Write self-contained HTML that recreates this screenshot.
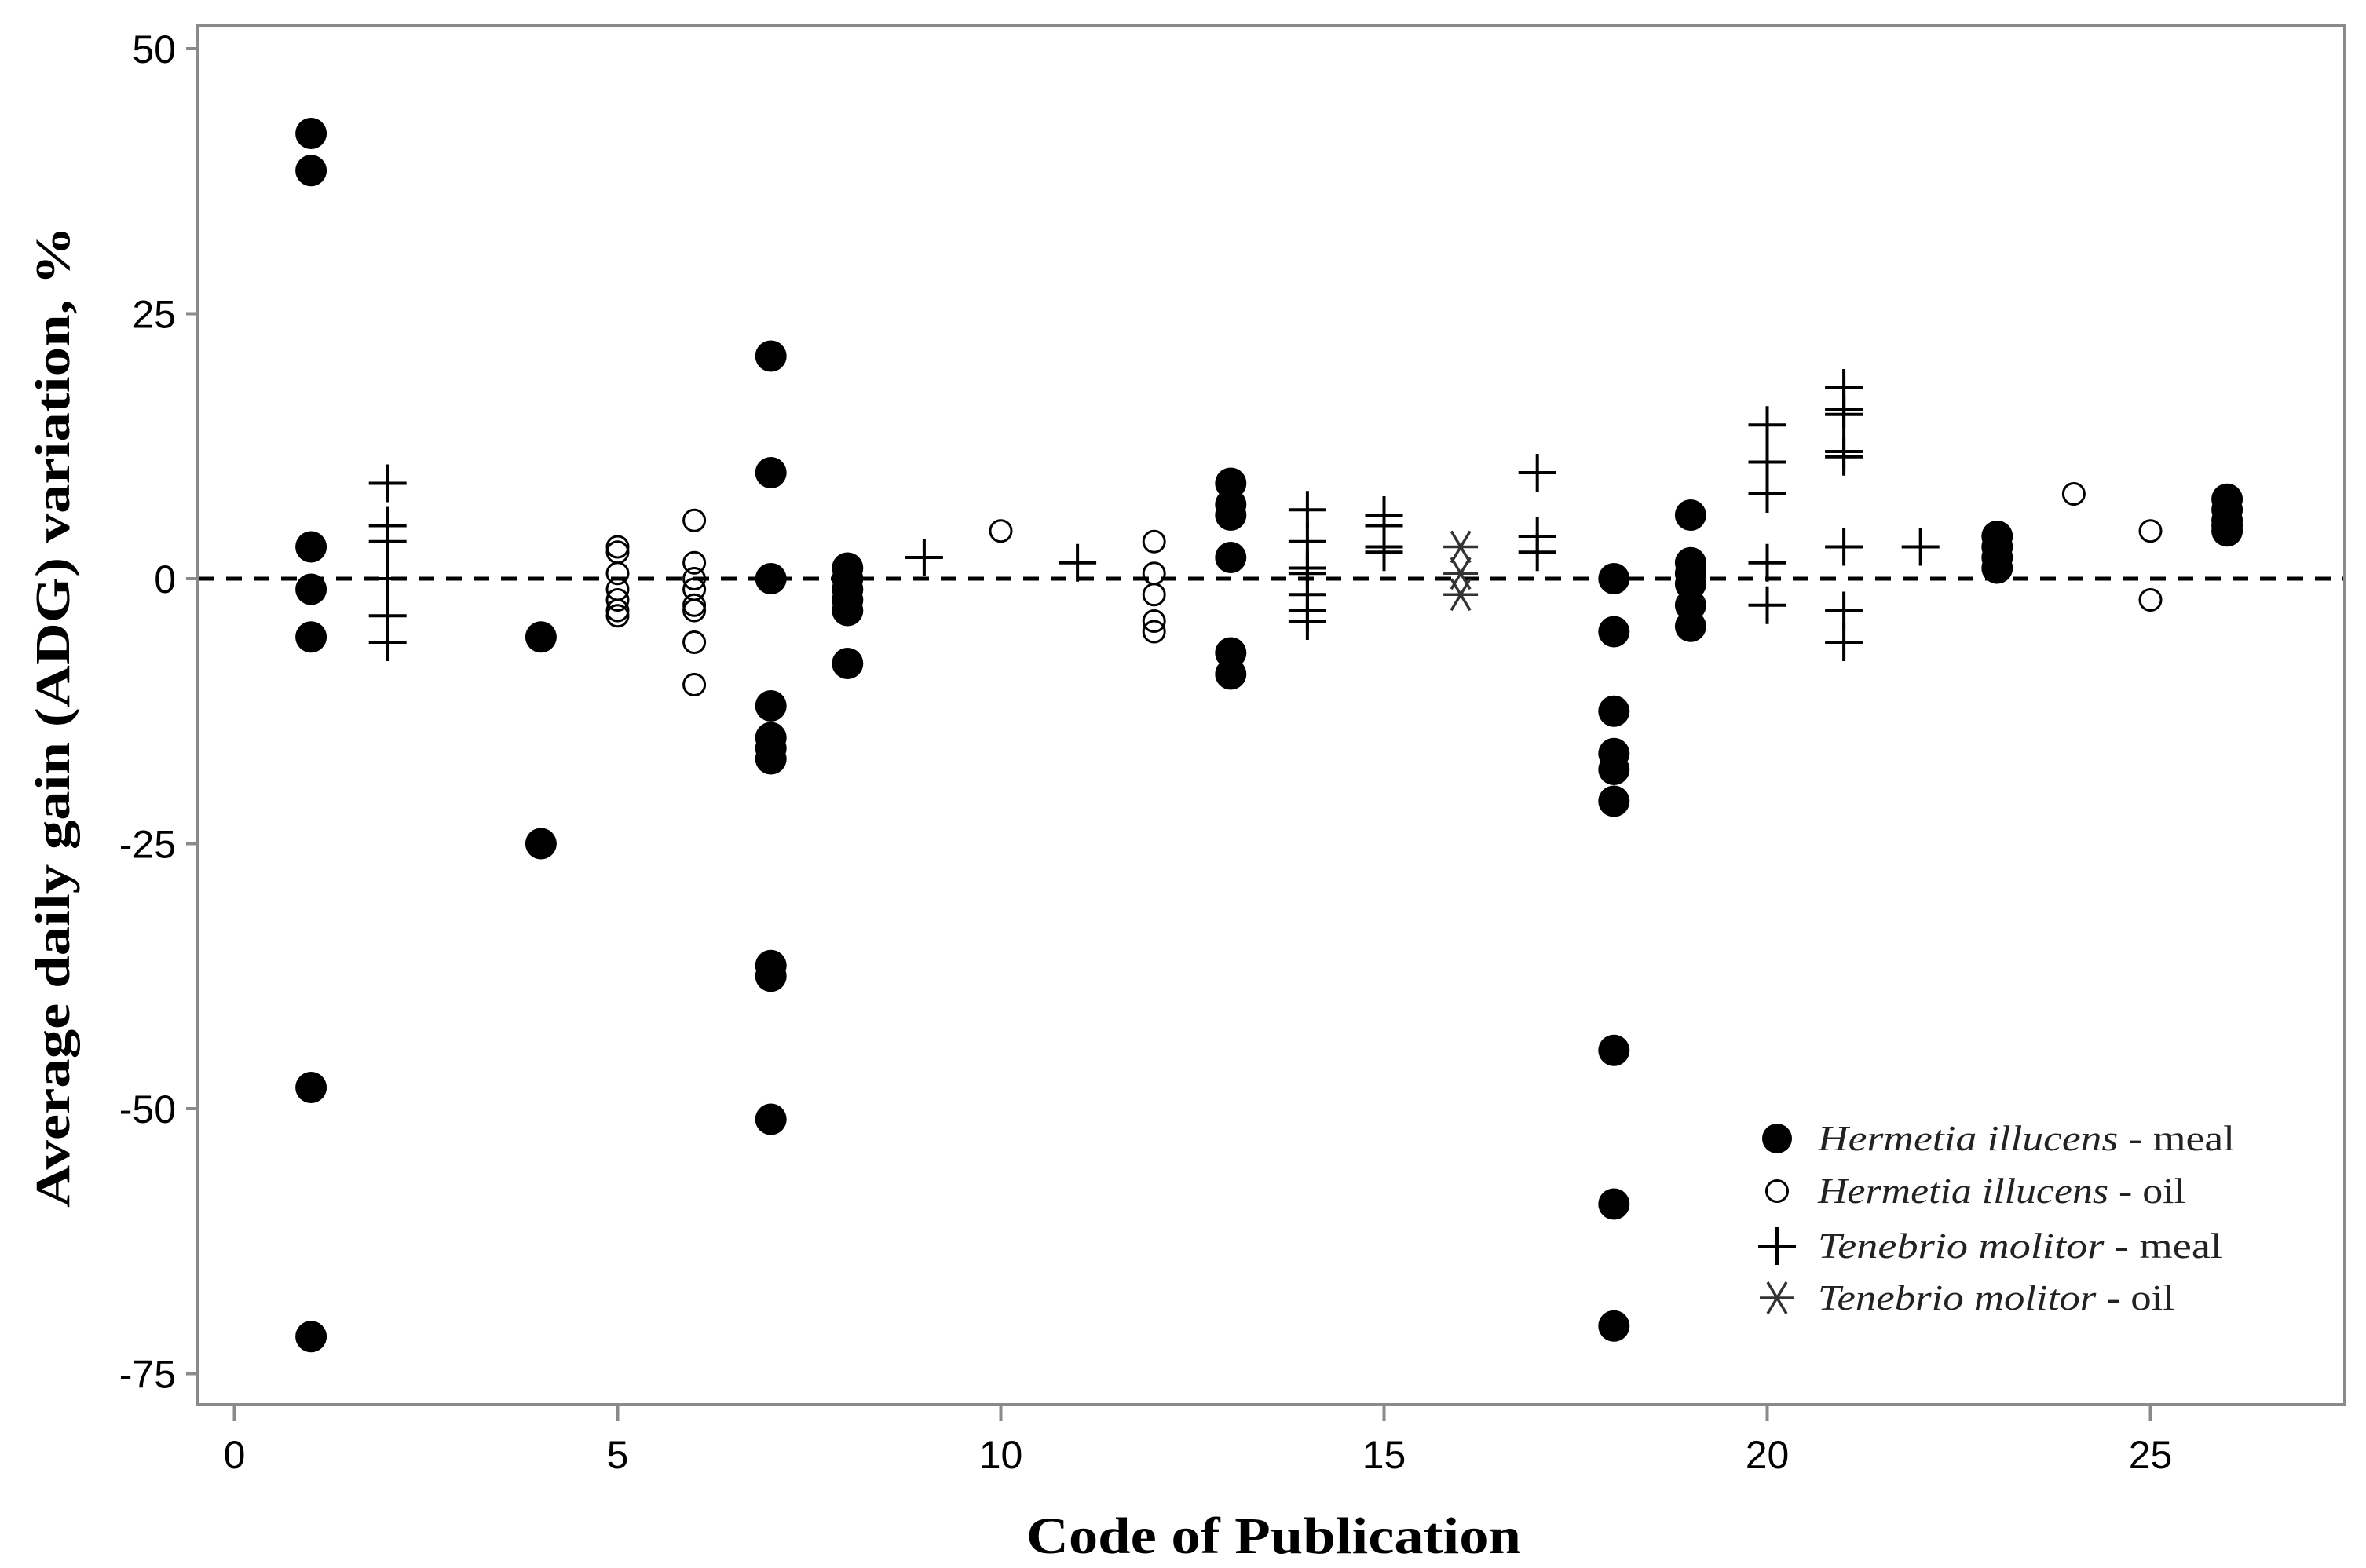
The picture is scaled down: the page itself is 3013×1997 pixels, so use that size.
<!DOCTYPE html>
<html><head><meta charset="utf-8"><style>html,body{margin:0;padding:0;background:#fff}svg{display:block}</style></head>
<body>
<svg id="chart" width="3013" height="1997" viewBox="0 0 3013 1997" xmlns="http://www.w3.org/2000/svg">
<rect width="3013" height="1997" fill="#fff"/>
<g id="marks"></g>
<rect x="251" y="32" width="2735" height="1757" fill="none" stroke="#8a8a8a" stroke-width="4"/>
<g id="axes"></g>
<text x="1622" y="1978" text-anchor="middle" font-family="Liberation Serif, serif" font-weight="bold" font-size="66" textLength="630" lengthAdjust="spacingAndGlyphs">Code of Publication</text>
<text transform="translate(88,913) rotate(-90)" text-anchor="middle" font-family="Liberation Serif, serif" font-weight="bold" font-size="62" textLength="1250" lengthAdjust="spacingAndGlyphs">Average daily gain (ADG) variation, %</text>
<g id="legend"></g>
</svg>
<script>
const xTicks = [0, 5, 10, 15, 20, 25];
const yTicks = [50, 25, 0, -25, -50, -75];
const hiMealX = [1,1,1,1,1,1,1, 4,4, 7,7,7,7,7,7,7,7,7,7, 8,8,8,8,8,8, 13,13,13,13,13,13, 18,18,18,18,18,18,18,18,18, 19,19,19,19,19,19, 23,23,23,23, 26,26,26,26,26];
const hiMealY = [42,38.5,3,-1,-5.5,-48,-71.5, -5.5,-25, 21,10,0,-12,-15,-16,-17,-36.5,-37.5,-51, 1,0,-1,-2,-3,-8, 9,7,6,2,-7,-9, 0,-5,-12.5,-16.5,-18,-21,-44.5,-59,-70.5, 6,1.5,0.5,-0.5,-2.5,-4.5, 4,3,2,1, 7.5,6.5,5.5,5,4.5];
const hiOilX = [5,5,5,5,5,5,5, 6,6,6,6,6,6,6,6, 10, 12,12,12,12,12, 24, 25,25];
const hiOilY = [3,2.5,0.5,-1,-2,-3,-3.5, 5.5,1.5,0,-1,-2.5,-3,-6,-10, 4.5, 3.5,0.5,-1.5,-4,-5, 8, 4.5,-2];
const tmMealX = [2,2,2,2,2,2, 9, 11, 14,14,14,14,14,14,14, 15,15,15,15, 17,17,17, 20,20,20,20,20, 21,21,21,21,21,21,21,21, 22];
const tmMealY = [9,5,3.5,0,-3.5,-6, 2, 1.5, 6.5,3.5,1,0.5,-1.5,-3,-4, 6,5,3,2.5, 10,4,2.5, 14.5,11,8,1.5,-2.5, 18,16,15.5,12,11.5,3,-3,-6, 3];
const tmOilX = [16,16,16];
const tmOilY = [3,0.5,-1.5];
const legendLabels = [["Hermetia illucens"," - meal"],["Hermetia illucens"," - oil"],["Tenebrio molitor"," - meal"],["Tenebrio molitor"," - oil"]];

const NS = "http://www.w3.org/2000/svg";
const X0 = 298.5, XS = 97.6, Y0 = 737, YS = 13.5;
function sx(v){ return X0 + v*XS; }
function sy(v){ return Y0 - v*YS; }
function mk(tag, attrs, parent){ const e=document.createElementNS(NS,tag); for(const k in attrs) e.setAttribute(k,attrs[k]); parent.appendChild(e); return e; }
const marks = document.getElementById('marks'), axes = document.getElementById('axes'), legend = document.getElementById('legend');

// zero line
const zl = mk('line',{x1:253,x2:2984,y1:sy(0),y2:sy(0),stroke:'#000','stroke-width':5,'stroke-dasharray':'20 15'},marks);



function filled(x,y,p,r){ return mk('circle',{cx:x,cy:y,r:r||20,fill:'#000'},p); }
function openC(x,y,p){ return mk('circle',{cx:x,cy:y,r:13.5,fill:'none',stroke:'#000','stroke-width':3},p); }
function plus(x,y,p){ return mk('path',{d:`M${x-24},${y}H${x+24}M${x},${y-24}V${y+24}`,stroke:'#000','stroke-width':4,fill:'none'},p); }
function star(x,y,p){ return mk('path',{d:`M${x-22},${y}H${x+22}M${x-12},${y-20}L${x+12},${y+20}M${x+12},${y-20}L${x-12},${y+20}`,stroke:'#333','stroke-width':3.5,fill:'none'},p); }

hiMealX.forEach((v,i)=>{ const e=filled(sx(v),sy(hiMealY[i]),marks);
  
   });
hiOilX.forEach((v,i)=>{ const e=openC(sx(v),sy(hiOilY[i]),marks);
  
   });
tmMealX.forEach((v,i)=>{ const e=plus(sx(v),sy(tmMealY[i]),marks);
  
   });
tmOilX.forEach((v,i)=>{ const e=star(sx(v),sy(tmOilY[i]),marks);
  
   });

xTicks.forEach(t=>{
  const l=mk('line',{x1:sx(t),x2:sx(t),y1:1791,y2:1810,stroke:'#8a8a8a','stroke-width':4},axes);
  
  
  const tx=mk('text',{x:sx(t),y:1870,'text-anchor':'middle','font-family':'Liberation Sans, sans-serif','font-size':50},axes);
  tx.textContent=t;
  
  
});
yTicks.forEach(t=>{
  const l=mk('line',{x1:237,x2:251,y1:sy(t),y2:sy(t),stroke:'#8a8a8a','stroke-width':4},axes);
  
  
  const tx=mk('text',{x:224,y:sy(t)+18,'text-anchor':'end','font-family':'Liberation Sans, sans-serif','font-size':50},axes);
  tx.textContent=t;
  
  
});

const legY=[1450,1517,1587,1653], legW=[531,468,515,454];
legendLabels.forEach((lab,i)=>{
  const mx=2263, my=legY[i];
  let m;
  if(i===0) m=filled(mx,my,legend,19);
  else if(i===1) m=openC(mx,my,legend);
  else if(i===2) m=plus(mx,my,legend);
  else m=star(mx,my,legend);
  
  
  const tx=mk('text',{x:2315,y:my+15,'font-family':'Liberation Serif, serif','font-size':46,fill:'#222',textLength:legW[i],lengthAdjust:'spacingAndGlyphs'},legend);
  const a=mk('tspan',{'font-style':'italic'},tx); a.textContent=lab[0];
  const b=mk('tspan',{},tx); b.textContent=lab[1];
  
  
});
</script>
</body></html>
